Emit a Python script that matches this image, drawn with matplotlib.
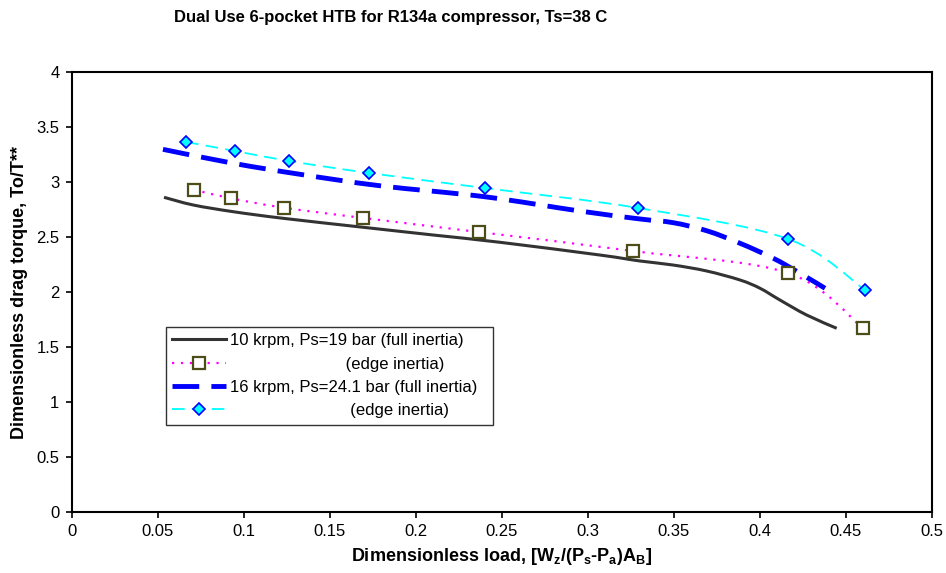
import matplotlib
matplotlib.use("Agg")
import matplotlib.pyplot as plt
from matplotlib.lines import Line2D
from matplotlib.patches import PathPatch
from matplotlib.path import Path
from matplotlib.ticker import FuncFormatter, MultipleLocator

plt.rcParams["font.family"] = ["Liberation Sans", "DejaVu Sans"]
plt.rcParams["mathtext.fontset"] = "custom"
plt.rcParams["mathtext.rm"] = "Liberation Sans:bold"
plt.rcParams["mathtext.default"] = "rm"

# 10 krpm, Ps=19 bar, full inertia (smooth curve, no markers)
load_10_full = [0.0535, 0.0705, 0.0938, 0.1228, 0.1713, 0.2101, 0.2488, 0.307,
                0.3302, 0.3496, 0.369, 0.3884, 0.40, 0.4116, 0.4271, 0.4446]
torque_10_full = [2.861, 2.791, 2.730, 2.670, 2.585, 2.518, 2.452, 2.336,
                  2.282, 2.245, 2.191, 2.109, 2.034, 1.927, 1.791, 1.670]

# 10 krpm, edge inertia
load_10_edge = [0.0708, 0.0923, 0.1233, 0.1694, 0.2365, 0.326, 0.4163, 0.4597]
torque_10_edge = [2.930, 2.852, 2.766, 2.673, 2.545, 2.373, 2.173, 1.673]

# 16 krpm, Ps=24.1 bar, full inertia
load_16_full = [0.0529, 0.0938, 0.1326, 0.179, 0.24, 0.2953, 0.3302, 0.3496,
                0.369, 0.3884, 0.4078, 0.4233, 0.4378]
torque_16_full = [3.297, 3.17, 3.07, 2.966, 2.866, 2.736, 2.664, 2.630,
                  2.557, 2.443, 2.306, 2.17, 2.034]

# 16 krpm, edge inertia
load_16_edge = [0.0663, 0.0948, 0.1262, 0.1727, 0.2401, 0.3291, 0.4163, 0.4610]
torque_16_edge = [3.364, 3.282, 3.191, 3.082, 2.945, 2.764, 2.482, 2.018]

labels = [
    "10 krpm, Ps=19 bar (full inertia)",
    "                         (edge inertia)",
    "16 krpm, Ps=24.1 bar (full inertia)  ",
    "                          (edge inertia)",
]


def smooth_path(xs, ys):
    # Excel style smoothed line: Catmull-Rom segments as cubic Beziers
    pts = list(zip(xs, ys))
    verts = [pts[0]]
    codes = [Path.MOVETO]
    n = len(pts)
    for i in range(n - 1):
        p0 = pts[i - 1] if i > 0 else pts[i]
        p1 = pts[i]
        p2 = pts[i + 1]
        p3 = pts[i + 2] if i + 2 < n else pts[i + 1]
        c1 = (p1[0] + (p2[0] - p0[0]) / 6, p1[1] + (p2[1] - p0[1]) / 6)
        c2 = (p2[0] - (p3[0] - p1[0]) / 6, p2[1] - (p3[1] - p1[1]) / 6)
        verts += [c1, c2, p2]
        codes += [Path.CURVE4] * 3
    return Path(verts, codes)


fig = plt.figure(figsize=(9.46, 5.73), dpi=100)
ax = fig.add_axes([0.0761, 0.1065, 0.9091, 0.7678])

black_c = "#333333"
mag_c = "#ff00ff"
blue_c = "#0000ff"
cyan_c = "#00ffff"
sq_edge = "#4d4d1a"

black_ls = "solid"
mag_ls = (0, (1, 3))
blue_ls = (0, (5.5, 2.5))
cyan_ls = (0, (7, 4))

ax.add_patch(PathPatch(smooth_path(load_10_full, torque_10_full), fill=False,
                       edgecolor=black_c, lw=2.2, linestyle=black_ls,
                       capstyle="butt"))

ax.add_patch(PathPatch(smooth_path(load_10_edge, torque_10_edge), fill=False,
                       edgecolor=mag_c, lw=1.6, linestyle=mag_ls))
ax.plot(load_10_edge, torque_10_edge, ls="none", marker="s", ms=9,
        mfc="white", mec=sq_edge, mew=1.6)

ax.add_patch(PathPatch(smooth_path(load_16_full, torque_16_full), fill=False,
                       edgecolor=blue_c, lw=3.5, linestyle=blue_ls,
                       capstyle="butt"))

ax.add_patch(PathPatch(smooth_path(load_16_edge, torque_16_edge), fill=False,
                       edgecolor=cyan_c, lw=1.3, linestyle=cyan_ls))
ax.plot(load_16_edge, torque_16_edge, ls="none", marker="D", ms=6.5,
        mfc=cyan_c, mec=blue_c, mew=1.2)

ax.set_xlim(0, 0.5)
ax.set_ylim(0, 4)
ax.xaxis.set_major_locator(MultipleLocator(0.05))
ax.yaxis.set_major_locator(MultipleLocator(0.5))
fmt = FuncFormatter(lambda v, pos: f"{v:g}")
ax.xaxis.set_major_formatter(fmt)
ax.yaxis.set_major_formatter(fmt)
ax.tick_params(direction="out", length=4, width=1.2, labelsize=12, pad=5)
for sp in ax.spines.values():
    sp.set_linewidth(1.5)
    sp.set_color("black")

# the title sits left of the axes centre in the original
fig.text(0.413, 0.9686, "Dual Use 6-pocket HTB for R134a compressor, Ts=38 C",
         fontsize=12, fontweight="bold", ha="center", va="center")
ax.set_xlabel("Dimensionless load, [W$_{z}$/(P$_{s}$-P$_{a}$)A$_{B}$]",
              fontsize=13, fontweight="bold", labelpad=5)
ax.set_ylabel("Dimensionless drag torque, To/T**", fontsize=13,
              fontweight="bold", labelpad=6)

handles = [
    Line2D([], [], color=black_c, lw=2.2),
    Line2D([], [], color=mag_c, lw=1.6, linestyle=mag_ls, marker="s",
           ms=8, mfc="white", mec=sq_edge, mew=1.6),
    Line2D([], [], color=blue_c, lw=3.5, linestyle=blue_ls),
    Line2D([], [], color=cyan_c, lw=1.3, linestyle=cyan_ls, marker="D",
           ms=6.5, mfc=cyan_c, mec=blue_c, mew=1.2),
]
leg = ax.legend(handles, labels, loc="lower left", bbox_to_anchor=(0.109, 0.198),
                fontsize=12, frameon=True, fancybox=False, handlelength=3.2,
                handletextpad=0.25, labelspacing=0.5, borderpad=0.4,
                borderaxespad=0)
leg.get_frame().set_edgecolor("black")
leg.get_frame().set_linewidth(1.0)

fig.savefig("out.png", dpi=100)
